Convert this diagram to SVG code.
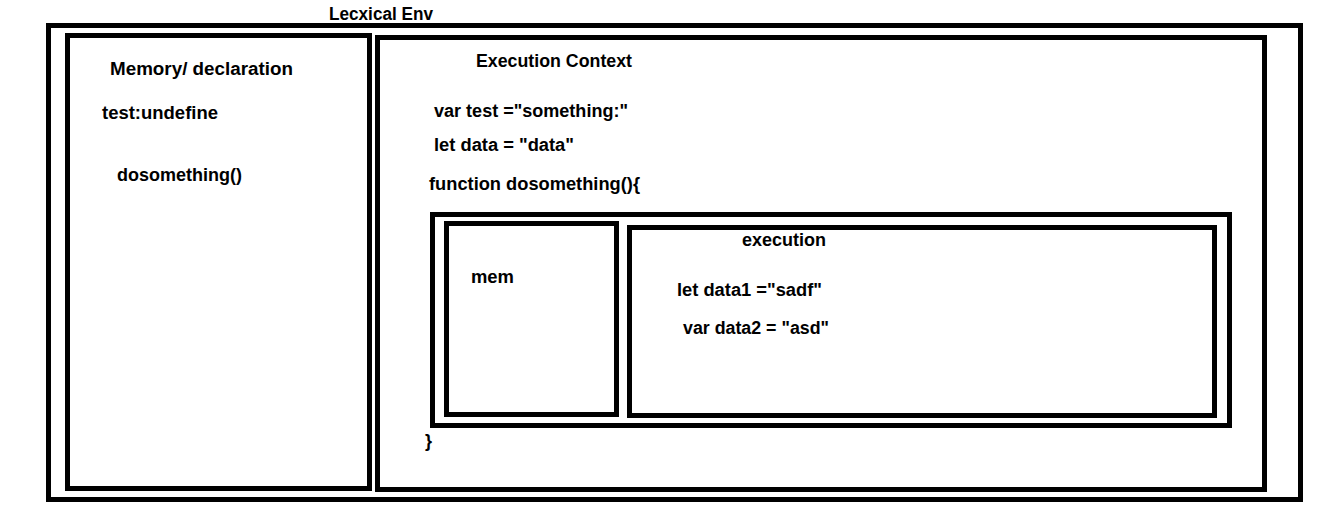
<svg xmlns="http://www.w3.org/2000/svg" width="1330" height="512" viewBox="0 0 1330 512">
<style>
.box{fill:none;stroke:#000;stroke-width:5}
.t{font-family:"Liberation Sans",Arial,sans-serif;font-weight:bold;font-size:18px;fill:#000}
</style>
<rect width="1330" height="512" fill="#fff"/>
<g id="lexical-env">
<rect class="box" x="48.5" y="25.5" width="1252" height="474"/>
<text class="t" x="329" y="20" textLength="104" lengthAdjust="spacingAndGlyphs">Lecxical Env</text>
</g>
<g id="memory">
<rect class="box" x="67.5" y="35.5" width="302" height="453"/>
<text class="t" x="110" y="75" textLength="183" lengthAdjust="spacingAndGlyphs">Memory/ declaration</text>
<text class="t" x="102" y="119" textLength="116" lengthAdjust="spacingAndGlyphs">test:undefine</text>
<text class="t" x="117" y="181" textLength="125" lengthAdjust="spacingAndGlyphs">dosomething()</text>
</g>
<g id="execution-context">
<rect class="box" x="377.5" y="37.5" width="887" height="452"/>
<text class="t" x="476" y="67" textLength="156" lengthAdjust="spacingAndGlyphs">Execution Context</text>
<text class="t" x="434" y="117" textLength="194" lengthAdjust="spacingAndGlyphs">var test ="something:"</text>
<text class="t" x="434" y="151" textLength="140" lengthAdjust="spacingAndGlyphs">let data = "data"</text>
<text class="t" x="429" y="190" textLength="211" lengthAdjust="spacingAndGlyphs">function dosomething(){</text>
<text class="t" x="425" y="447">}</text>
</g>
<g id="function-box">
<rect class="box" x="432.5" y="214.5" width="797" height="211"/>
</g>
<g id="mem">
<rect class="box" x="446.5" y="223.5" width="170" height="191"/>
<text class="t" x="471" y="283" textLength="43" lengthAdjust="spacingAndGlyphs">mem</text>
</g>
<g id="execution">
<rect class="box" x="629.5" y="227.5" width="585" height="188"/>
<text class="t" x="742" y="246" textLength="84" lengthAdjust="spacingAndGlyphs">execution</text>
<text class="t" x="677" y="296" textLength="145" lengthAdjust="spacingAndGlyphs">let data1 ="sadf"</text>
<text class="t" x="683" y="334" textLength="146" lengthAdjust="spacingAndGlyphs">var data2 = "asd"</text>
</g>
<g id="connectors"></g>
</svg>
